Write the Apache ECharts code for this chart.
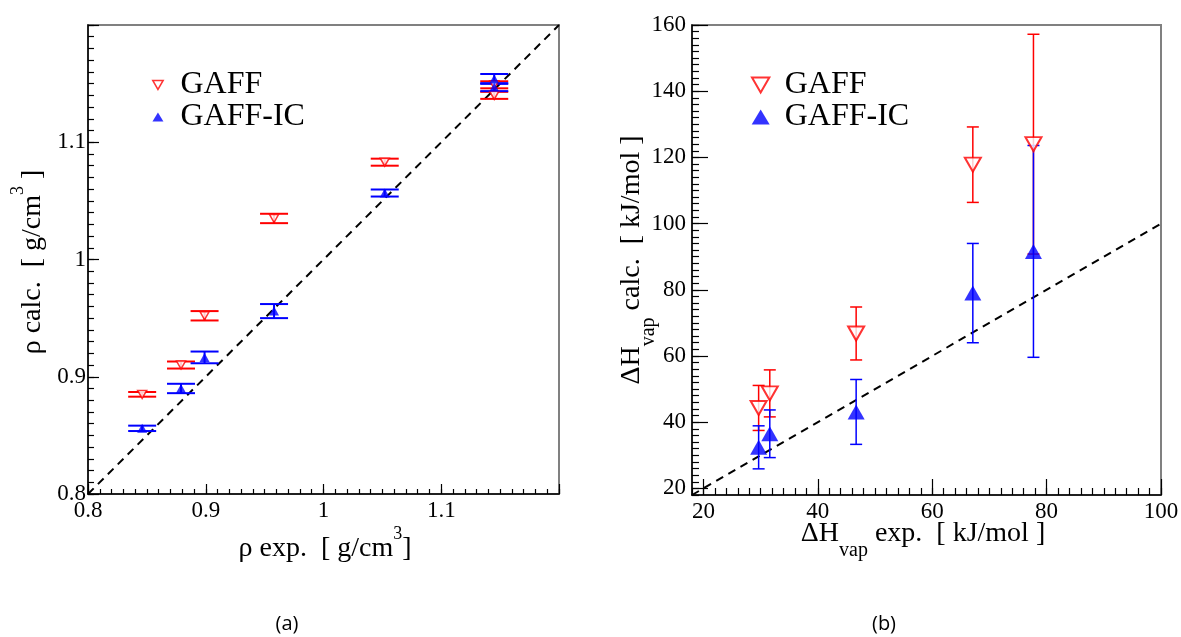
<!DOCTYPE html>
<html>
<head>
<meta charset="utf-8">
<script src="https://cdn.jsdelivr.net/npm/echarts@6/dist/echarts.min.js"></script>
<style>
  html, body { margin: 0; padding: 0; background: #fff; }
  #chart { width: 1181px; height: 637px; }
</style>
</head>
<body>
<div id="chart"></div>
<script>
// ---- Panel (a): liquid density, g/cm^3 ----
const rhoExp        = [0.846, 0.879, 0.899, 0.958, 1.052, 1.145, 1.145];
const rhoGaff       = [0.885, 0.910, 0.952, 1.035, 1.083, 1.149, 1.140];
const rhoGaffErr    = [0.002, 0.003, 0.004, 0.004, 0.003, 0.003, 0.003];
const rhoGaffIC     = [0.856, 0.890, 0.9165, 0.956, 1.0567, 1.154, 1.147];
const rhoGaffICErr  = [0.0023, 0.004, 0.005, 0.006, 0.003, 0.0042, 0.0034];
const rhoLabels     = [0.8, 0.9, 1.0, 1.1];
const rhoMajor      = [0.8, 0.9, 1.0, 1.1, 1.2];
const rhoRange      = [0.8, 1.2];

// ---- Panel (b): heat of vaporization, kJ/mol ----
const hvapExp       = [29.65, 31.6, 46.7, 67.1, 77.7];
const hvapGaff      = [44.3, 48.7, 66.8, 117.8, 124.0];
const hvapGaffErr   = [6.8, 7.1, 8.0, 11.4, 33.2];
const hvapGaffIC    = [32.4, 36.5, 43.1, 79.0, 91.6];
const hvapGaffICErr = [6.5, 7.2, 9.8, 15.0, 32.0];
const hvapXLabels   = [20, 40, 60, 80, 100];
const hvapYLabels   = [20, 40, 60, 80, 100, 120, 140, 160];
const hvapXRange    = [18, 100];
const hvapYRange    = [18, 160];

const seriesNames   = ['GAFF', 'GAFF-IC'];

const SERIF = '"Liberation Serif", "Times New Roman", "DejaVu Serif", serif';
const RED = '#ff0000';
const BLUE = '#0000ff';
// downward-pointing triangle used for the GAFF legend entry
const DOWN_TRIANGLE = 'path://M0,0L20,0L10,17.32Z';

function minorTicks(lo, hi, step, digits) {
  const out = [];
  const n = Math.round((hi - lo) / step);
  for (let i = 0; i <= n; i++) out.push(+(lo + i * step).toFixed(digits));
  return out;
}

const fmt = v => String(+(+v).toFixed(3));

function mainAxis(grid, pos, range, major, labels, tickLen, margin) {
  return {
    type: 'value', gridIndex: grid, position: pos, min: range[0], max: range[1],
    axisLine: { show: true, onZero: false, lineStyle: { color: '#000', width: 1.5 } },
    axisTick: { show: true, inside: true, length: tickLen, customValues: major,
                lineStyle: { color: '#000', width: 1.2 } },
    axisLabel: { show: true, customValues: labels, formatter: fmt, margin: margin,
                 color: '#000', fontFamily: SERIF, fontSize: 23 },
    splitLine: { show: false }
  };
}
function minorAxis(grid, pos, range, ticks, tickLen) {
  return {
    type: 'value', gridIndex: grid, position: pos, min: range[0], max: range[1],
    axisLine: { show: false, onZero: false },
    axisTick: { show: true, inside: true, length: tickLen, customValues: ticks,
                lineStyle: { color: '#000', width: 1.2 } },
    axisLabel: { show: false },
    splitLine: { show: false }
  };
}

function errorBars(xi, yi, xs, ys, es, color, capW, lw) {
  return {
    type: 'custom', xAxisIndex: xi, yAxisIndex: yi, z: 3, silent: true, clip: false,
    data: xs.map((x, i) => [x, ys[i], es[i]]),
    encode: { x: 0, y: 1 },
    renderItem(params, api) {
      const x = api.value(0), y = api.value(1), e = api.value(2);
      const hi = api.coord([x, y + e]);
      const lo = api.coord([x, y - e]);
      const h = capW / 2;
      const st = { stroke: color, lineWidth: lw };
      return {
        type: 'group',
        children: [
          { type: 'line', shape: { x1: hi[0], y1: hi[1], x2: lo[0], y2: lo[1] }, style: st },
          { type: 'line', shape: { x1: hi[0] - h, y1: hi[1], x2: hi[0] + h, y2: hi[1] }, style: st },
          { type: 'line', shape: { x1: lo[0] - h, y1: lo[1], x2: lo[0] + h, y2: lo[1] }, style: st }
        ]
      };
    }
  };
}

function markers(name, xi, yi, xs, ys, hollow, size, bw) {
  return {
    type: 'scatter', name: name, xAxisIndex: xi, yAxisIndex: yi, z: 4, silent: true,
    symbol: 'triangle', symbolRotate: hollow ? 180 : 0, symbolSize: size,
    itemStyle: hollow ? { color: '#ffffff', borderColor: RED, borderWidth: bw }
                      : { color: BLUE, borderWidth: 0 },
    data: xs.map((x, i) => [x, ys[i]])
  };
}

function diagonal(xi, yi, range) {
  return {
    type: 'line', xAxisIndex: xi, yAxisIndex: yi, z: 2, silent: true,
    symbol: 'none', data: range.map(v => [v, v]),
    lineStyle: { color: '#000', width: 2, type: [8, 6] }
  };
}

function legendBlock(left, w, h, pad, bw) {
  return {
    data: [
      { name: seriesNames[0], icon: DOWN_TRIANGLE,
        itemStyle: { color: '#ffffff', borderColor: RED, borderWidth: bw } },
      { name: seriesNames[1], icon: 'triangle',
        itemStyle: { color: BLUE, borderWidth: 0 } }
    ],
    orient: 'vertical', left: left, top: 69, itemGap: 0, padding: 0,
    itemWidth: w, itemHeight: h, selectedMode: false,
    textStyle: { fontFamily: SERIF, fontSize: 32, color: '#000', lineHeight: 27,
                 padding: [0, 0, 0, pad] }
  };
}

const chart = echarts.init(document.getElementById('chart'), null, { renderer: 'canvas' });

// axis titles: m = main text (with room for a superscript), s = superscript,
// M = main text (with room for a subscript), b = subscript
const titleRich = {
  m: { fontFamily: SERIF, fontSize: 28, color: '#000', lineHeight: 47, verticalAlign: 'middle' },
  s: { fontFamily: SERIF, fontSize: 18, color: '#000', lineHeight: 18, verticalAlign: 'top' },
  M: { fontFamily: SERIF, fontSize: 28, color: '#000', lineHeight: 53, verticalAlign: 'middle' },
  b: { fontFamily: SERIF, fontSize: 20, color: '#000', lineHeight: 20, verticalAlign: 'bottom' }
};

function titleText(x, y, rot, text) {
  return {
    type: 'text', x: x, y: y, rotation: rot, silent: true,
    style: { text: text, rich: titleRich, align: 'center', verticalAlign: 'middle',
             fontFamily: SERIF, fontSize: 28, fill: '#000' }
  };
}

const option = {
  animation: false,
  backgroundColor: '#fff',
  grid: [
    { left: 88, top: 25, width: 471, height: 469, show: true, borderColor: '#808080',
      borderWidth: 2, backgroundColor: 'transparent', outerBoundsMode: 'none' },
    { left: 692, top: 25, width: 469, height: 470, show: true, borderColor: '#808080',
      borderWidth: 2, backgroundColor: 'transparent', outerBoundsMode: 'none' }
  ],
  xAxis: [
    mainAxis(0, 'bottom', rhoRange, rhoMajor, rhoLabels, 10, 5),
    minorAxis(0, 'bottom', rhoRange, minorTicks(rhoRange[0], rhoRange[1], 0.01, 3), 5),
    mainAxis(1, 'bottom', hvapXRange, hvapXLabels, hvapXLabels, 16, 5),
    minorAxis(1, 'bottom', hvapXRange, minorTicks(hvapXRange[0], hvapXRange[1], 2, 0), 7)
  ],
  yAxis: [
    mainAxis(0, 'left', rhoRange, rhoMajor, rhoLabels, 11, 2),
    minorAxis(0, 'left', rhoRange, minorTicks(rhoRange[0], rhoRange[1], 0.01, 3), 6),
    mainAxis(1, 'left', hvapYRange, hvapYLabels, hvapYLabels, 16, 6),
    minorAxis(1, 'left', hvapYRange, minorTicks(hvapYRange[0], hvapYRange[1], 2, 0), 7)
  ],
  legend: [
    legendBlock(152, 11, 9, 12, 1.5),
    legendBlock(751, 18, 15, 10, 2)
  ],
  series: [
    diagonal(0, 0, rhoRange),
    errorBars(0, 0, rhoExp, rhoGaff, rhoGaffErr, RED, 28, 2),
    markers(seriesNames[0], 0, 0, rhoExp, rhoGaff, true, [9, 8], 1.5),
    errorBars(0, 0, rhoExp, rhoGaffIC, rhoGaffICErr, BLUE, 28, 2),
    markers(seriesNames[1], 0, 0, rhoExp, rhoGaffIC, false, [10, 9], 0),

    diagonal(2, 2, hvapXRange),
    errorBars(2, 2, hvapExp, hvapGaff, hvapGaffErr, RED, 12, 1.5),
    markers(seriesNames[0], 2, 2, hvapExp, hvapGaff, true, [16, 14], 2),
    errorBars(2, 2, hvapExp, hvapGaffIC, hvapGaffICErr, BLUE, 12, 1.5),
    markers(seriesNames[1], 2, 2, hvapExp, hvapGaffIC, false, [17, 15], 0)
  ],
  graphic: [
    titleText(325, 549, 0, '{m|ρ exp.  [ g/cm}{s|3}{m|]}'),
    titleText(33, 262, Math.PI / 2, '{m|ρ calc.  [ g/cm}{s|3}{m| ]}'),
    titleText(923, 534, 0, '{M|ΔH}{b|vap}{M| exp.  [ kJ/mol ]}'),
    titleText(632, 260, Math.PI / 2, '{M|ΔH}{b|vap}{M| calc.  [ kJ/mol ]}'),
    { type: 'text', x: 287, y: 624, silent: true,
      style: { text: '(a)', fontFamily: '"Open Sans", sans-serif', fontSize: 20, fill: '#000',
               align: 'center', verticalAlign: 'middle' } },
    { type: 'text', x: 884, y: 624, silent: true,
      style: { text: '(b)', fontFamily: '"Open Sans", sans-serif', fontSize: 20, fill: '#000',
               align: 'center', verticalAlign: 'middle' } }
  ]
};

chart.setOption(option);
</script>
</body>
</html>
